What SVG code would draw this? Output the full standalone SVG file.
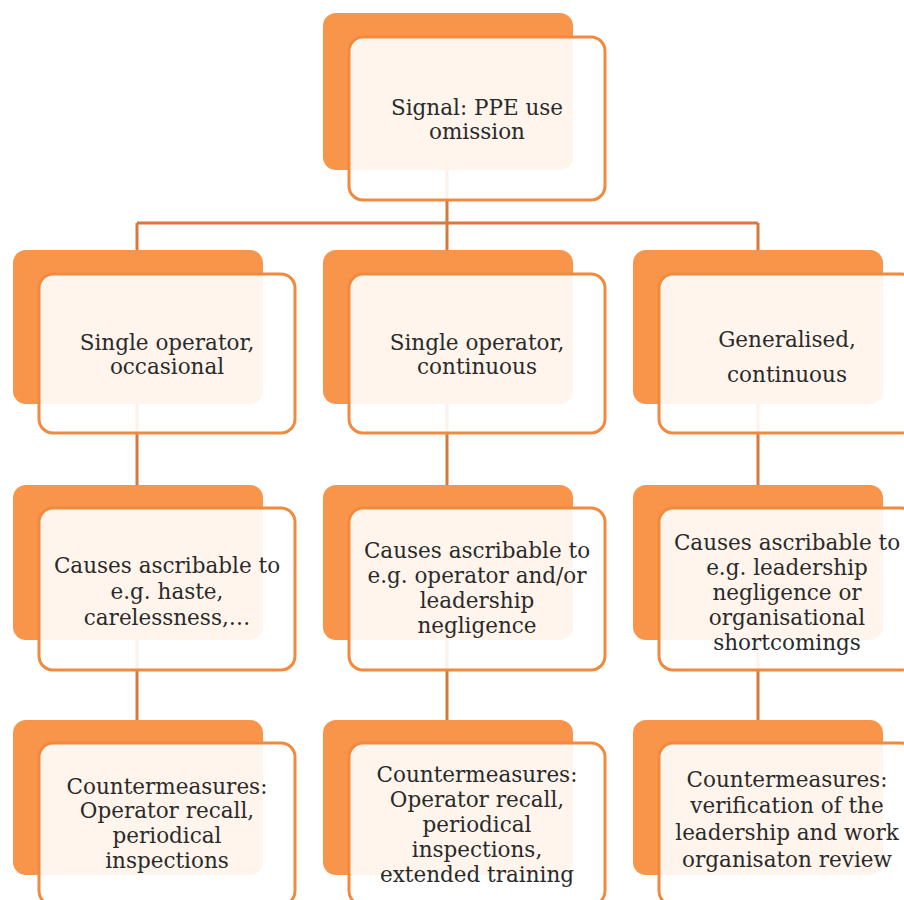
<svg xmlns="http://www.w3.org/2000/svg" width="904" height="900" viewBox="0 0 904 900">
<style>
.back{fill:#F8954A;}
.front{fill:#FFFFFF;fill-opacity:0.9;stroke:#F08A3E;stroke-width:3;}
.conn{stroke:#D9783A;stroke-width:3;fill:none;}
text{font-family:"DejaVu Serif","Liberation Serif",serif;font-size:21.5px;fill:#2a2a2a;text-anchor:middle;}
</style>
<rect width="904" height="900" fill="#FFFFFF"/>
<g id="connectors">
<path class="conn" d="M447 170 V223 M137 223 H758 M137 223 V250 M447 223 V250 M758 223 V250"/>
<path class="conn" d="M137 400 V485 M447 400 V485 M758 400 V485"/>
<path class="conn" d="M137 640 V720 M447 640 V720 M758 640 V720"/>
</g>
<g id="signal">
<rect class="back" x="323" y="13" width="250" height="157" rx="13"/>
<rect class="front" x="349" y="37" width="256" height="163" rx="14"/>
<text x="477" y="115">Signal: PPE use</text>
<text x="477" y="139">omission</text>
</g>
<g id="single-occasional">
<rect class="back" x="13" y="250" width="250" height="154" rx="13"/>
<rect class="front" x="39" y="274" width="256" height="159" rx="14"/>
<text x="167" y="350">Single operator,</text>
<text x="167" y="374">occasional</text>
</g>
<g id="single-continuous">
<rect class="back" x="323" y="250" width="250" height="154" rx="13"/>
<rect class="front" x="349" y="274" width="256" height="159" rx="14"/>
<text x="477" y="350">Single operator,</text>
<text x="477" y="374">continuous</text>
</g>
<g id="generalised-continuous">
<rect class="back" x="633" y="250" width="250" height="154" rx="13"/>
<rect class="front" x="659" y="274" width="256" height="159" rx="14"/>
<text x="787" y="347">Generalised,</text>
<text x="787" y="382">continuous</text>
</g>
<g id="causes-1">
<rect class="back" x="13" y="485" width="250" height="155" rx="13"/>
<rect class="front" x="39" y="508" width="256" height="162" rx="14"/>
<text x="167" y="573">Causes ascribable to</text>
<text x="167" y="599">e.g. haste,</text>
<text x="167" y="625">carelessness,…</text>
</g>
<g id="causes-2">
<rect class="back" x="323" y="485" width="250" height="155" rx="13"/>
<rect class="front" x="349" y="508" width="256" height="162" rx="14"/>
<text x="477" y="558">Causes ascribable to</text>
<text x="477" y="583">e.g. operator and/or</text>
<text x="477" y="608">leadership</text>
<text x="477" y="633">negligence</text>
</g>
<g id="causes-3">
<rect class="back" x="633" y="485" width="250" height="155" rx="13"/>
<rect class="front" x="659" y="508" width="256" height="162" rx="14"/>
<text x="787" y="550">Causes ascribable to</text>
<text x="787" y="575">e.g. leadership</text>
<text x="787" y="600">negligence or</text>
<text x="787" y="625">organisational</text>
<text x="787" y="650">shortcomings</text>
</g>
<g id="counter-1">
<rect class="back" x="13" y="720" width="250" height="155" rx="13"/>
<rect class="front" x="39" y="743" width="256" height="162" rx="14"/>
<text x="167" y="794">Countermeasures:</text>
<text x="167" y="818">Operator recall,</text>
<text x="167" y="843">periodical</text>
<text x="167" y="868">inspections</text>
</g>
<g id="counter-2">
<rect class="back" x="323" y="720" width="250" height="155" rx="13"/>
<rect class="front" x="349" y="743" width="256" height="162" rx="14"/>
<text x="477" y="782">Countermeasures:</text>
<text x="477" y="807">Operator recall,</text>
<text x="477" y="832">periodical</text>
<text x="477" y="857">inspections,</text>
<text x="477" y="882">extended training</text>
</g>
<g id="counter-3">
<rect class="back" x="633" y="720" width="250" height="155" rx="13"/>
<rect class="front" x="659" y="743" width="256" height="162" rx="14"/>
<text x="787" y="787">Countermeasures:</text>
<text x="787" y="813">verification of the</text>
<text x="787" y="840">leadership and work</text>
<text x="787" y="867">organisaton review</text>
</g>
</svg>
